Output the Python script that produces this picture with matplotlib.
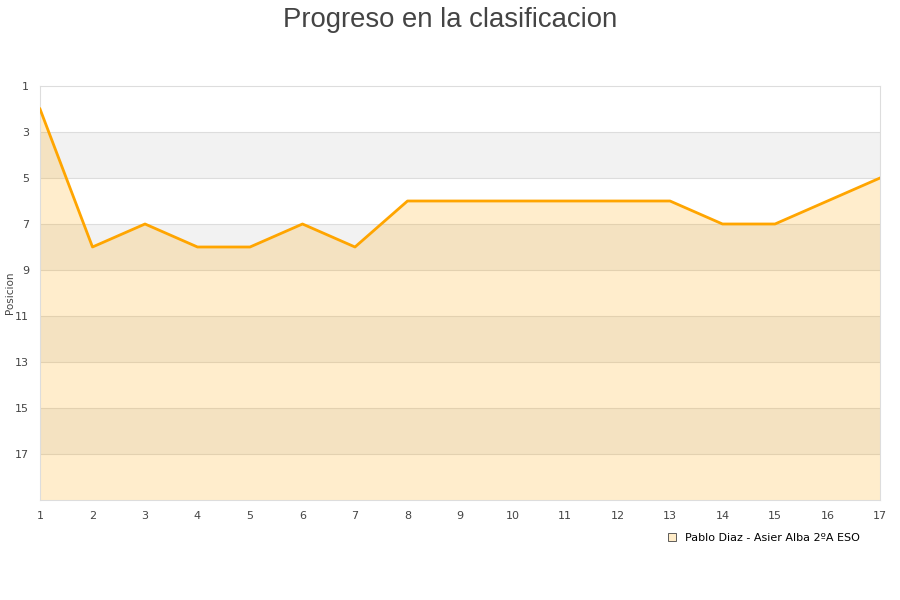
import matplotlib
matplotlib.use("Agg")
import matplotlib.pyplot as plt
from matplotlib.lines import Line2D

jornadas = list(range(1, 18))
posiciones = [2, 8, 7, 8, 8, 7, 8, 6, 6, 6, 6, 6, 6, 7, 7, 6, 5]
y_ticks = [1, 3, 5, 7, 9, 11, 13, 15, 17]
serie = "Pablo Diaz - Asier Alba 2ºA ESO"
titulo = "Progreso en la clasificacion"
y_label = "Posicion"

fig = plt.figure(figsize=(9, 6), dpi=100)
ax = fig.add_axes([40/900, 100/600, 840/900, 414/600])

ymin, ymax = 1, 19
# alternating bands
for i, b in enumerate(range(ymin, ymax, 2)):
    if i % 2 == 1:
        ax.axhspan(b, b + 2, color="#f2f2f2", zorder=0, lw=0)
for t in y_ticks[1:]:
    ax.axhline(t, color="#dddddd", lw=0.8, zorder=1)

ax.fill_between(jornadas, posiciones, ymax, color="#ffa500", alpha=0.2, lw=0, zorder=2)
ax.plot(jornadas, posiciones, color="#ffa500", lw=2, zorder=3)

ax.set_xlim(1, 17)
ax.set_ylim(ymax, ymin)
ax.set_yticks(y_ticks)
ax.set_xticks(jornadas)
ax.tick_params(length=0, labelsize=8, colors="#444444", pad=8)
for s in ax.spines.values():
    s.set_color("#dddddd")
    s.set_linewidth(0.8)

fig.text(10/900, 1 - 293/600, y_label, rotation=90, ha="center", va="center",
         fontsize=7.5, color="#444444")
fig.text(0.5, 1 - 27/600, titulo, ha="center", va="baseline", fontsize=19.8,
         color="#444444", family=["Liberation Sans", "DejaVu Sans"])

handle = Line2D([], [], marker="s", linestyle="none", markersize=6,
                markerfacecolor="#ffecc8", markeredgecolor="#444444", markeredgewidth=0.6)
fig.legend([handle], [serie], loc="center right", bbox_to_anchor=(864/900, 1 - 538/600),
           frameon=False, fontsize=8, handletextpad=0.6, borderaxespad=0, handlelength=1)

fig.savefig("out.png", dpi=100)
